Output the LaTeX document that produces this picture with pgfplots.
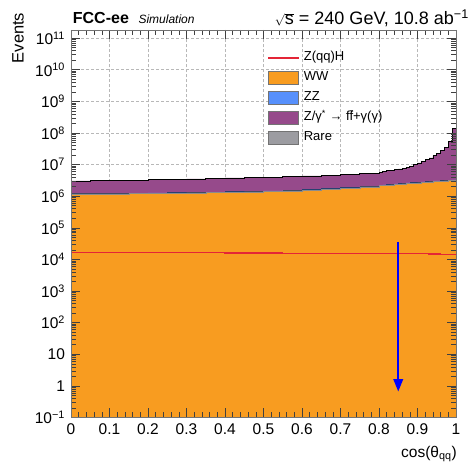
\documentclass[border=0pt]{standalone}
\usepackage{fontspec}
\setmainfont{Liberation Sans}
\usepackage{pgfplots}
\pgfplotsset{compat=1.18}
\usepackage{pgfplotstable}
\usetikzlibrary{arrows.meta}
\definecolor{cww}{HTML}{F89C20}
\definecolor{czz}{HTML}{5790FC}
\definecolor{cdy}{HTML}{964A8B}
\definecolor{crare}{HTML}{9C9CA1}
\definecolor{czh}{HTML}{E42536}
\pgfplotsset{
 layers/mylayers/.define layer set={axis background,axis grid,pre main,main,axis ticks,axis lines,axis tick labels,axis descriptions,axis foreground}{
   grid style={/pgfplots/on layer=axis grid},
   tick style={/pgfplots/on layer=axis ticks},
   axis line style={/pgfplots/on layer=axis lines},
   label style={/pgfplots/on layer=axis descriptions},
   legend style={/pgfplots/on layer=axis descriptions},
   title style={/pgfplots/on layer=axis descriptions},
   ticklabel style={/pgfplots/on layer=axis tick labels},
 },
 mylineleg/.style={legend image code/.code={\fill[czh] (0pt,-0.7pt) rectangle (30pt,0.7pt);}},
 myboxleg/.style={legend image code/.code={\draw[##1, line width=0.6pt] (0pt,-6.5pt) rectangle (30pt,6.5pt);}},
}
\pgfplotstableread{
x ww wwzz tot zh
0.00 1.175e6 1.230e6 3.020e6 1.64e4
0.05 1.180e6 1.235e6 3.090e6 1.64e4
0.10 1.189e6 1.245e6 3.162e6 1.63e4
0.15 1.202e6 1.258e6 3.236e6 1.63e4
0.20 1.216e6 1.273e6 3.311e6 1.62e4
0.25 1.230e6 1.288e6 3.388e6 1.62e4
0.30 1.259e6 1.318e6 3.508e6 1.61e4
0.35 1.288e6 1.349e6 3.631e6 1.61e4
0.40 1.318e6 1.380e6 3.758e6 1.60e4
0.45 1.365e6 1.429e6 3.890e6 1.60e4
0.50 1.413e6 1.479e6 4.027e6 1.59e4
0.55 1.479e6 1.549e6 4.169e6 1.58e4
0.60 1.549e6 1.622e6 4.365e6 1.58e4
0.65 1.660e6 1.738e6 4.624e6 1.57e4
0.70 1.778e6 1.862e6 4.898e6 1.56e4
0.75 1.950e6 2.042e6 5.248e6 1.56e4
0.80 2.138e6 2.238e6 5.754e6 1.55e4
0.81 2.188e6 2.291e6 6.026e6 1.55e4
0.82 2.239e6 2.344e6 6.310e6 1.54e4
0.83 2.291e6 2.399e6 6.607e6 1.55e4
0.84 2.344e6 2.454e6 6.918e6 1.54e4
0.85 2.399e6 2.512e6 7.244e6 1.54e4
0.86 2.455e6 2.570e6 7.586e6 1.53e4
0.87 2.512e6 2.630e6 8.128e6 1.52e4
0.88 2.570e6 2.691e6 8.913e6 1.52e4
0.89 2.600e6 2.722e6 1.000e7 1.51e4
0.90 2.630e6 2.754e6 1.122e7 1.51e4
0.91 2.692e6 2.819e6 1.259e7 1.50e4
0.92 2.754e6 2.883e6 1.413e7 1.50e4
0.93 2.818e6 2.950e6 1.622e7 1.49e4
0.94 2.884e6 3.020e6 1.905e7 1.49e4
0.95 2.917e6 3.054e6 2.291e7 1.48e4
0.96 2.951e6 3.090e6 2.818e7 1.47e4
0.97 3.020e6 3.162e6 3.548e7 1.47e4
0.98 3.090e6 3.235e6 5.248e7 1.46e4
0.99 3.126e6 3.273e6 1.413e8 1.45e4
1.00 3.126e6 3.273e6 1.413e8 1.45e4
}\hist
\begin{document}
\begin{tikzpicture}
\begin{axis}[
 set layers=mylayers,
 scale only axis, width=385pt, height=387.5pt,
 ymode=log,
 xmin=0, xmax=1, ymin=0.1, ymax=1.8e11,
 xtick={0,0.1,0.2,0.3,0.4,0.5,0.6,0.7,0.8,0.9,1},
 xticklabels={0,0.1,0.2,0.3,0.4,0.5,0.6,0.7,0.8,0.9,1},
 minor x tick num=4,
 ytick={1e-1,1,1e1,1e2,1e3,1e4,1e5,1e6,1e7,1e8,1e9,1e10,1e11},
 yticklabels={10\textsuperscript{−1},1,10,10\textsuperscript{2},10\textsuperscript{3},10\textsuperscript{4},10\textsuperscript{5},10\textsuperscript{6},10\textsuperscript{7},10\textsuperscript{8},10\textsuperscript{9},10\textsuperscript{10},10\textsuperscript{11}},
 tick align=inside,
 xtick pos=both, ytick pos=both,
 grid=major,
 major grid style={densely dashed, black!28, line width=0.45pt},
 major tick length=9pt, minor tick length=5pt,
 tick style={black!75, line width=0.5pt},
 axis line style={black!55, line width=0.7pt},
 ticklabel style={font=\fontsize{15.5}{17}\selectfont},
 xticklabel style={yshift=-2.5pt},
 yticklabel style={xshift=-2.5pt},
 legend style={draw=none, fill=none, at={(0.5117,0.9515)}, anchor=north west,
   font=\fontsize{13}{15}\selectfont, row sep=3pt, inner sep=0pt,
   nodes={inner sep=2pt, text depth=3pt, text height=10pt},
   /tikz/every odd column/.append style={column sep=3pt}},
 legend cell align=left,
]
\addplot[fill=cdy, draw=none, const plot mark left, forget plot] table[x=x,y=tot]{\hist} -- (rel axis cs:1,0) -- (rel axis cs:0,0) -- cycle;
\addplot[draw=black, line width=0.8pt, const plot mark left, forget plot] table[x=x,y=tot]{\hist};
\addplot[fill=czz, draw=none, const plot mark left, forget plot] table[x=x,y=wwzz]{\hist} -- (rel axis cs:1,0) -- (rel axis cs:0,0) -- cycle;
\addplot[draw=czz!45!black, line width=0.5pt, const plot mark left, forget plot] table[x=x,y=wwzz]{\hist};
\addplot[fill=cww, draw=none, const plot mark left, forget plot] table[x=x,y=ww]{\hist} -- (rel axis cs:1,0) -- (rel axis cs:0,0) -- cycle;
\addplot[draw=black!45, line width=0.5pt, const plot mark left, forget plot] table[x=x,y=ww]{\hist};
\addplot[draw=czh, line width=1.2pt, const plot mark left, forget plot] table[x=x,y=zh]{\hist};
\addplot[draw=blue, line width=2pt, -{Triangle[width=9.5pt,length=12.5pt]}, forget plot] coordinates {(0.85,3.6e4) (0.85,0.66)};
\addlegendimage{mylineleg}
\addlegendentry{Z(qq)H}
\addlegendimage{myboxleg, fill=cww, draw=black!55}
\addlegendentry{WW}
\addlegendimage{myboxleg, fill=czz, draw=black!55}
\addlegendentry{ZZ}
\addlegendimage{myboxleg, fill=cdy, draw=black!55}
\addlegendentry{Z/γ\textsuperscript{*} → f\={f}+γ(γ)}
\addlegendimage{myboxleg, fill=crare, draw=black!55}
\addlegendentry{Rare}
\end{axis}
\node[anchor=base west, inner sep=0pt, font=\fontsize{16}{18}\selectfont\bfseries] at (1.7pt,393.5pt) {FCC-ee};
\node[anchor=base west, inner sep=0pt, font=\fontsize{12}{14}\selectfont\itshape] at (67.3pt,393.5pt) {Simulation};
\node[anchor=base east, inner sep=0pt, font=\fontsize{18}{20}\selectfont] at (398pt,392.5pt) {{\fontsize{12}{14}\selectfont$\sqrt{\mbox{\fontsize{18}{20}\selectfont s}}$} = 240 GeV, 10.8 ab\textsuperscript{−1}};
\node[rotate=90, inner sep=0pt, font=\fontsize{16.5}{18}\selectfont] at (-53pt,379.5pt) {Events};
\node[anchor=north east, inner sep=0pt, font=\fontsize{15.5}{17}\selectfont] at (386pt,-28.5pt) {cos(θ\textsubscript{qq})};
\path (-71pt,-50.5pt) rectangle (400pt,417.5pt);
\end{tikzpicture}
\end{document}
